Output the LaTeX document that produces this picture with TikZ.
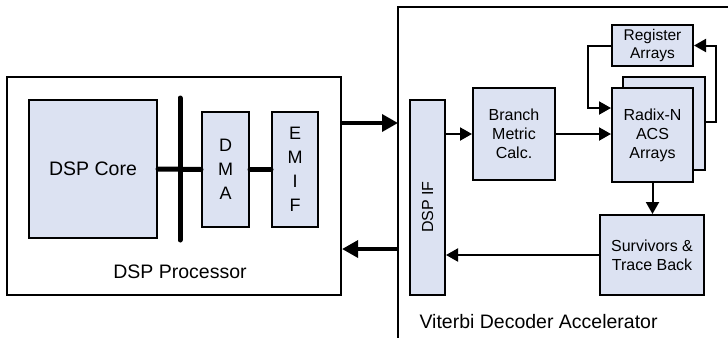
\documentclass[tikz,border=0pt]{standalone}
\usepackage{fontspec}
\setmainfont{Liberation Sans}
\usetikzlibrary{arrows.meta}
\definecolor{boxfill}{RGB}{220,226,242}
\tikzset{
  blk/.style={draw=black, line width=2pt, fill=boxfill, inner sep=0pt, align=center},
  outer/.style={draw=black, line width=2.2pt, fill=white, inner sep=0pt},
  arr/.style={line width=2pt, -{Triangle[length=12pt,width=13pt]}},
  bigarr/.style={line width=3.5pt, -{Triangle[length=16pt,width=17pt]}},
  bus/.style={line width=5pt, line cap=round},
  smalltxt/.style={font=\fontsize{16}{19}\selectfont},
  bigtxt/.style={font=\fontsize{19.5}{23}\selectfont},
}
\begin{document}
\begin{tikzpicture}[x=1pt,y=-1pt]
\useasboundingbox (0,0) rectangle (728,338);
% DSP processor
\node[outer, minimum width=334pt, minimum height=218pt] (dsp) at (174,186) {};
\node[blk, minimum width=128pt, minimum height=138pt, bigtxt] (core) at (93,169) {DSP Core};
\node[blk, minimum width=47pt, minimum height=115pt, font=\fontsize{18}{24}\selectfont] (dma) at (225.5,169.5) {D\\M\\A};
\node[blk, minimum width=46pt, minimum height=115pt, font=\fontsize{18}{24}\selectfont] (emif) at (295,169.5) {E\\M\\I\\F};
\coordinate (bt) at (180,98);
\coordinate (bb) at (180,240);
\draw[bus] (bt) -- (bb);
\draw[bus] (core.east) -- (dma.west);
\draw[bus] (dma.east) -- (emif.west);
\node[bigtxt] (dsplbl) at (180,272) {DSP Processor};
% Viterbi outer
\coordinate (vtr) at (728,7);
\coordinate (vtl) at (398,7);
\coordinate (vbl) at (398,338);
\draw[line width=2.2pt] (vtr) -- (vtl) -- (vbl);
\node[bigtxt, anchor=west] (vlbl) at (416,322) {Viterbi Decoder Accelerator};
% inner blocks
\node[blk, minimum width=35pt, minimum height=195pt] (dspif) at (427.5,197.5) {};
\node[smalltxt, rotate=90] (dspiftxt) at (427.5,207) {DSP IF};
\node[blk, minimum width=82pt, minimum height=92pt, smalltxt] (bmc) at (514,134) {Branch\\Metric\\Calc.};
\node[blk, minimum width=82pt, minimum height=93pt] (acsback) at (664,123.5) {};
\node[blk, minimum width=81pt, minimum height=94pt, smalltxt] (acs) at (652.5,135) {Radix-N\\ACS\\Arrays};
\node[blk, minimum width=81pt, minimum height=41pt, font=\fontsize{15.5}{18}\selectfont] (reg) at (652.5,45.5) {Register\\Arrays};
\node[blk, minimum width=104pt, minimum height=80pt, smalltxt] (surv) at (652,255) {Survivors \&\\Trace Back};
% connectors between processors
\coordinate (vl1) at (398,123);
\coordinate (vl2) at (398,249);
\draw[bigarr] (dsp.east |- vl1) -- (vl1);
\draw[bigarr] (vl2) -- (dsp.east |- vl2);
% internal connectors
\draw[arr] (dspif.east |- bmc.west) -- (bmc.west);
\draw[arr] (bmc.east) -- (acs.west |- bmc.east);
\draw[arr] (acs.south) -- (surv.north -| acs.south);
\draw[arr] (surv.west) -- (dspif.east |- surv.west);
\coordinate (lp) at (588,108);
\draw[arr] (reg.west) -| (lp) -- (acs.west |- lp);
\coordinate (rp) at (716,122);
\draw[arr] (acsback.east |- rp) -- (rp) |- (reg.east);
\end{tikzpicture}
\end{document}
